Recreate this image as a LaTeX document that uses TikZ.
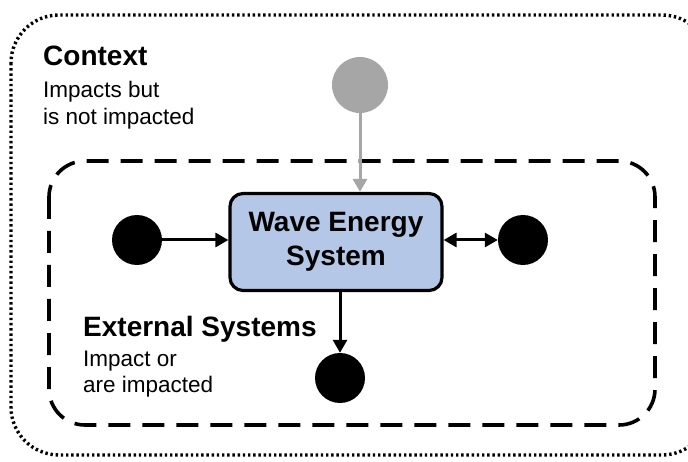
\documentclass[tikz,border=0pt]{standalone}
\usepackage{fontspec}
\setmainfont{Liberation Sans}
\usetikzlibrary{arrows.meta}
\definecolor{boxblue}{RGB}{180,199,231}
\definecolor{ctxgray}{RGB}{166,166,166}
\tikzset{
  outerbox/.style={line width=3.4pt, dash pattern=on 2.4pt off 2.8pt, rounded corners=48pt},
  innerbox/.style={line width=3.6pt, dash pattern=on 22pt off 12pt, rounded corners=36pt},
  sysbox/.style={draw, line width=3.2pt, fill=boxblue, rounded corners=13pt, minimum width=212pt, minimum height=97pt, align=center, font=\fontsize{28}{34}\selectfont\bfseries, inner sep=0pt},
  extnode/.style={circle, fill=black, minimum size=50pt, inner sep=0pt},
  ctxnode/.style={circle, fill=ctxgray, minimum size=56pt, inner sep=0pt},
  arr/.style={line width=3pt, -{Triangle[length=13pt,width=14pt]}},
  darr/.style={line width=3pt, {Triangle[length=13pt,width=14pt]}-{Triangle[length=13pt,width=14pt]}},
  garr/.style={line width=3pt, ctxgray, -{Triangle[length=13pt,width=14pt]}},
  title/.style={anchor=base west, inner sep=0pt, font=\fontsize{28}{34}\selectfont\bfseries},
  sub/.style={anchor=base west, inner sep=0pt, font=\fontsize{22.5}{27}\selectfont, align=left},
}
\begin{document}
\begin{tikzpicture}[x=1pt,y=-1pt]
\useasboundingbox[fill=white] (0,0) rectangle (688,462);
\draw[outerbox] (11,15) rectangle (710,455);
\draw[innerbox] (49,161) rectangle (655,425);
\node[sysbox] (wes) at (336,242) {Wave Energy\\System};
\node[ctxnode] (ctx) at (360,85) {};
\node[extnode] (left) at (137,240) {};
\node[extnode] (right) at (523,240) {};
\node[extnode] (bottom) at (340,378) {};
\draw[garr] (ctx) -- (ctx |- wes.north);
\draw[arr] (left) -- (left -| wes.west);
\draw[darr] (right -| wes.east) -- (right);
\draw[arr] (bottom |- wes.south) -- (bottom);
\node[title] (ctxt) at (43,66) {Context};
\node[sub] (ctxs1) at (43,98) {Impacts but};
\node[sub] (ctxs2) at (43,125) {is not impacted};
\node[title] (extt) at (83,336) {External Systems};
\node[sub] (exts1) at (83,366) {Impact or};
\node[sub] (exts2) at (83,392) {are impacted};
\end{tikzpicture}
\end{document}
